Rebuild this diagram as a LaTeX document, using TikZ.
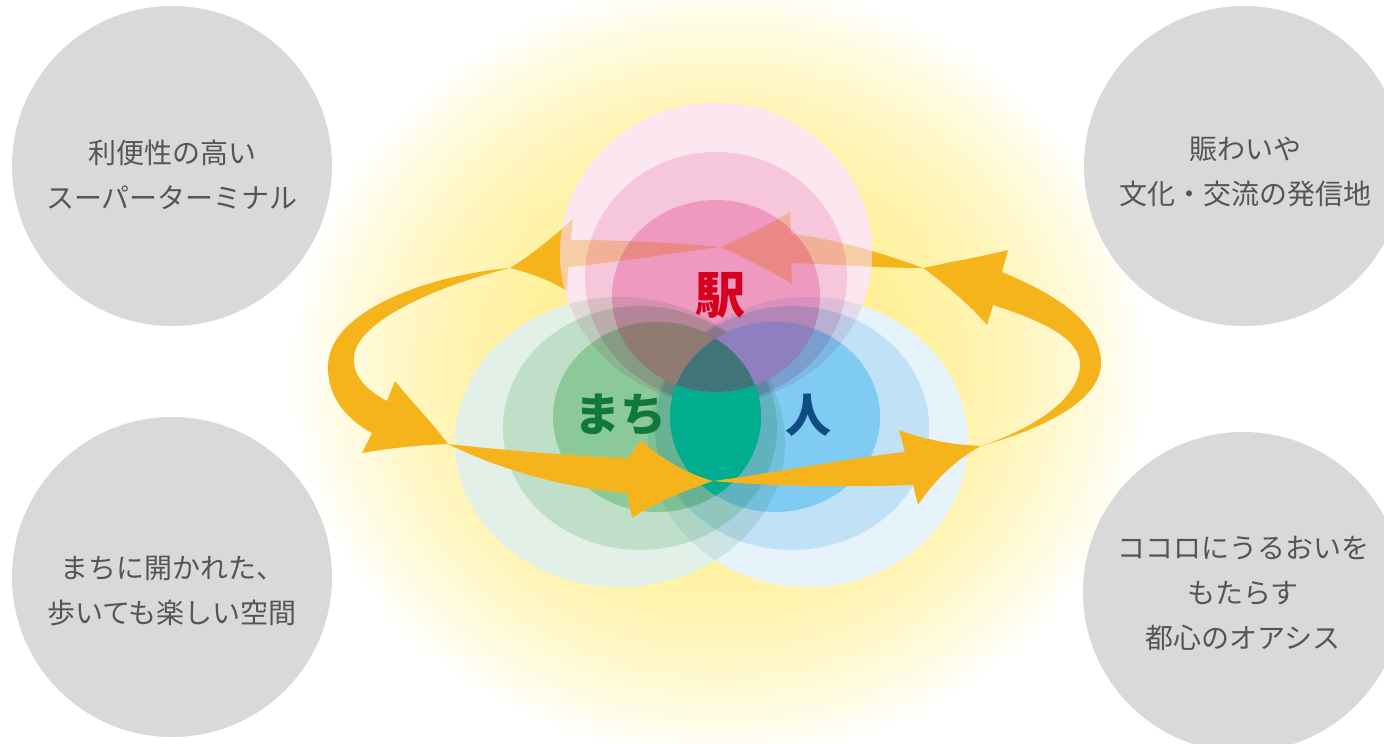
\documentclass[tikz,border=0pt]{standalone}
\usepackage{fontspec}
\newfontfamily\jp{Noto Sans CJK JP}
\definecolor{arrowc}{RGB}{246,180,28}
\definecolor{grayc}{RGB}{217,217,217}
\definecolor{txtc}{RGB}{85,85,85}
\definecolor{gA}{RGB}{255,240,150}
\definecolor{gB}{RGB}{255,245,185}
\definecolor{gC}{RGB}{255,251,225}
\pgfdeclareradialshading{glow}{\pgfpointorigin}{color(0bp)=(gA); color(10bp)=(gA); color(17bp)=(gB); color(22bp)=(gC); color(25bp)=(white); color(50bp)=(white)}
\definecolor{cpO}{RGB}{252,230,239}
\definecolor{cpM}{RGB}{249,221,233}
\definecolor{cpI}{RGB}{248,197,225}
\definecolor{cgO}{RGB}{227,240,232}
\definecolor{cgM}{RGB}{216,237,220}
\definecolor{cgI}{RGB}{186,230,196}
\definecolor{cbO}{RGB}{230,243,251}
\definecolor{cbM}{RGB}{213,237,250}
\definecolor{cbI}{RGB}{170,231,251}
\definecolor{xGB}{RGB}{0,173,142}
\definecolor{xPG}{RGB}{143,123,114}
\definecolor{xPB}{RGB}{142,128,192}
\definecolor{xPGB}{RGB}{63,116,120}
\definecolor{ovl}{RGB}{250,228,178}
\definecolor{ekiC}{RGB}{213,0,30}
\definecolor{machiC}{RGB}{16,120,58}
\definecolor{hitoC}{RGB}{14,76,130}
\tikzset{
  epO/.style={insert path={(716,253) ellipse [x radius=156pt, y radius=150pt]}},
  epM/.style={insert path={(716,277) ellipse [x radius=131pt, y radius=125pt]}},
  epI/.style={insert path={(716,296) ellipse [x radius=104pt, y radius=96pt]}},
  egO/.style={insert path={(620,442) ellipse [x radius=165pt, y radius=145pt]}},
  egM/.style={insert path={(640,428) ellipse [x radius=137pt, y radius=122pt]}},
  egI/.style={insert path={(657,417) ellipse [x radius=104pt, y radius=95pt]}},
  ebO/.style={insert path={(808,442) ellipse [x radius=160pt, y radius=145pt]}},
  ebM/.style={insert path={(792,428) ellipse [x radius=137pt, y radius=122pt]}},
  ebI/.style={insert path={(775,417) ellipse [x radius=105pt, y radius=95pt]}},
  mult/.style={blend mode=multiply},
  arrowfill/.style={fill=arrowc},
  overfill/.style={fill=ovl, blend mode=multiply},
  graycirc/.style={circle, fill=grayc, minimum size=320pt, inner sep=0pt},
  gtext/.style={font=\jp\fontsize{28}{45}\selectfont, text=txtc, align=center},
  bigtext/.style={font=\jp\bfseries\fontsize{#1}{#1}\selectfont, inner sep=0pt},
}
\begin{document}
\begin{tikzpicture}[x=1pt,y=-1pt]
\useasboundingbox (0,0) rectangle (1384,744);
\clip (0,0) rectangle (1384,744);
\fill[white] (0,0) rectangle (1384,744);
\shade[shading=glow] (720,370) ellipse [x radius=430pt, y radius=390pt];
% grey circles
\node[graycirc] (c1) at (172,166) {};
\node[graycirc] (c2) at (1244,166) {};
\node[graycirc] (c3) at (172,577) {};
\node[graycirc] (c4) at (1243,592) {};
\node[gtext] (t1) at (172,174.5) {利便性の高い\\スーパーターミナル};
\node[gtext] (t2) at (1245,171.5) {賑わいや\\文化・交流の発信地};
\node[gtext] (t3) at (172,591) {まちに開かれた、\\歩いても楽しい空間};
\node[gtext] (t4) at (1243,593) {ココロにうるおいを\\もたらす\\都心のオアシス};
% joints of the loop
\coordinate (jA) at (448,444);
\coordinate (jB) at (713,481);
\coordinate (jC) at (981,446);
\coordinate (jD) at (923,268);
\coordinate (jE) at (720,247);
\coordinate (jF) at (510,268);
% top arrows (under the pink circles)
\fill[arrowfill] (jD) .. controls (880,252) and (830,238) .. (791,234) -- (790,212) .. controls (766,226) and (742,238) .. (jE) .. controls (745,258) and (770,270) .. (792,284) -- (791,263) .. controls (830,264) and (880,268) .. (jD) -- cycle;
\fill[arrowfill] (jE) .. controls (680,243) and (620,240) .. (571,240) -- (573,219) .. controls (552,238) and (530,256) .. (jF) .. controls (530,273) and (550,280) .. (567,291) -- (568,267) .. controls (620,262) and (680,252) .. (jE) -- cycle;
% white base
\fill[white, epO]; \fill[white, egO]; \fill[white, ebO];
% circles
\fill[cpO, mult, epO]; \fill[cpM, mult, epM]; \fill[cpI, mult, epI];
\fill[cgO, mult, egO]; \fill[cgM, mult, egM]; \fill[cgI, mult, egI];
\fill[cbO, mult, ebO]; \fill[cbM, mult, ebM]; \fill[cbI, mult, ebI];
\begin{scope} \clip[egI]; \fill[xGB, ebI]; \end{scope}
\begin{scope} \clip[epI]; \fill[xPG, egI]; \end{scope}
\begin{scope} \clip[epI]; \fill[xPB, ebI]; \end{scope}
\begin{scope} \clip[epI]; \clip[egI]; \fill[xPGB, ebI]; \end{scope}
% top arrows seen through the pink circles
\begin{scope}
\clip[epO];
\fill[overfill] (jD) .. controls (880,252) and (830,238) .. (791,234) -- (790,212) .. controls (766,226) and (742,238) .. (jE) .. controls (745,258) and (770,270) .. (792,284) -- (791,263) .. controls (830,264) and (880,268) .. (jD) -- cycle;
\fill[overfill] (jE) .. controls (680,243) and (620,240) .. (571,240) -- (573,219) .. controls (552,238) and (530,256) .. (jF) .. controls (530,273) and (550,280) .. (567,291) -- (568,267) .. controls (620,262) and (680,252) .. (jE) -- cycle;
\end{scope}
% other arrows
\fill[arrowfill] (jA) .. controls (520,452) and (580,456) .. (628,458) -- (641,440) .. controls (662,460) and (688,474) .. (jB) .. controls (686,490) and (656,502) .. (632,518) -- (627,493) .. controls (570,489) and (500,470) .. (jA) -- cycle;
\fill[arrowfill] (jB) .. controls (780,472) and (850,458) .. (905,452) -- (899,430) .. controls (925,440) and (955,445) .. (jC) .. controls (955,460) and (934,481) .. (918,505) -- (913,485) .. controls (850,487) and (780,487) .. (jB) -- cycle;
\fill[arrowfill] (jC) .. controls (1045,428) and (1102,400) .. (1101,362) .. controls (1100,320) and (1050,292) .. (1002,272) -- (1008,250) .. controls (980,257) and (950,262) .. (jD) .. controls (945,284) and (970,305) .. (987,325) -- (993,305) .. controls (1040,320) and (1080,338) .. (1080,364) .. controls (1080,398) and (1035,428) .. (jC) -- cycle;
\fill[arrowfill] (jF) .. controls (430,275) and (330,310) .. (328,365) .. controls (327,400) and (350,421) .. (372,433) -- (362,453) .. controls (390,448) and (420,445) .. (jA) .. controls (430,420) and (410,400) .. (395,381) -- (387,401) .. controls (366,390) and (352,375) .. (354,356) .. controls (358,320) and (440,285) .. (jF) -- cycle;
% labels
\node[bigtext=50, text=ekiC] (eki) at (720,295) {駅};
\node[bigtext=46, text=machiC] (machi) at (620,415) {まち};
\node[bigtext=46, text=hitoC] (hito) at (808,415) {人};
\end{tikzpicture}
\end{document}
